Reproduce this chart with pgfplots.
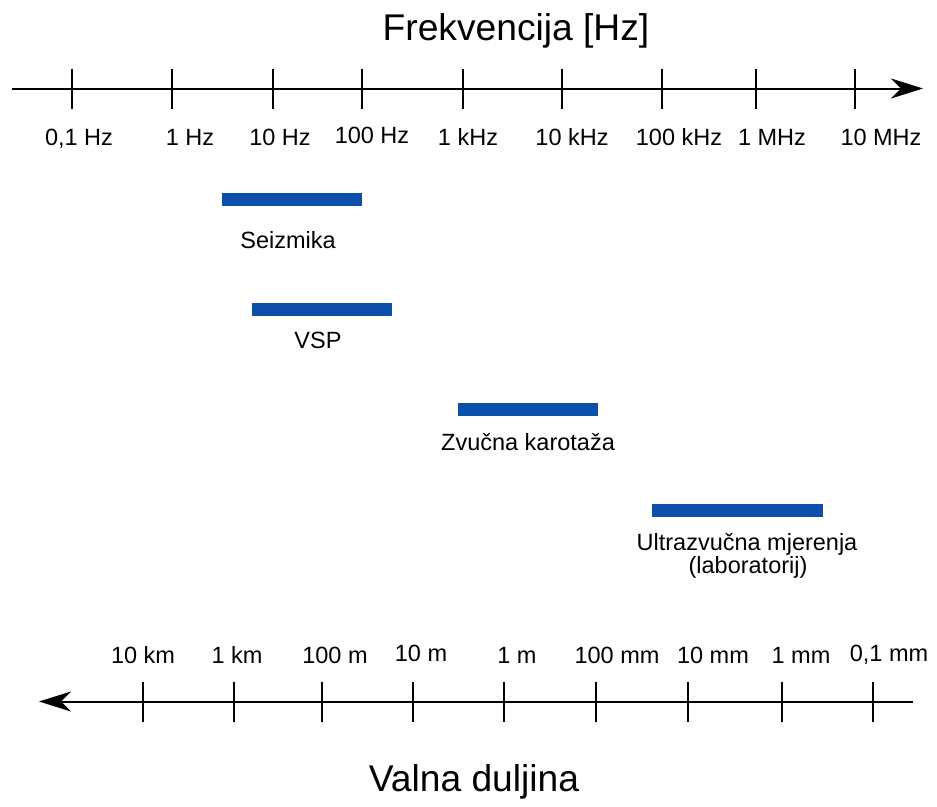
\documentclass[border=0pt]{standalone}
\usepackage{fontspec}
\setmainfont{Liberation Sans}
\usepackage{pgfplots}
\pgfplotsset{compat=1.18}
\usetikzlibrary{arrows.meta}
\definecolor{barblue}{RGB}{12,80,172}
\begin{document}
\fontsize{11.75}{14}\selectfont
\begin{tikzpicture}
\begin{axis}[
  width=468.5pt, height=400.5pt, scale only axis,
  xmin=0, xmax=937, ymin=0, ymax=801, y dir=reverse,
  hide axis, clip=false,
  every node/.style={font=\fontsize{11.75}{14}\selectfont},
]
% bounding box corners
\addplot[draw=none, forget plot] coordinates {(0,0) (937,801)};
% frequency axis
\addplot[black, line width=1pt, -{Stealth[length=16pt,width=10pt,inset=5pt]}] coordinates {(12,88.5) (923,88.5)};
\addplot[black, only marks, mark=|, mark size=10pt, mark options={line width=1pt}] coordinates {
(72,88.5) (172,88.5) (273,88.5) (362,88.5) (463,88.5) (562,88.5) (662,88.5) (756,88.5) (855,88.5)};
% wavelength axis
\addplot[black, line width=1pt, -{Stealth[length=16pt,width=10pt,inset=5pt]}] coordinates {(913,701.5) (39,701.5)};
\addplot[black, only marks, mark=|, mark size=10pt, mark options={line width=1pt}] coordinates {
(143,701.5) (234,701.5) (322,701.5) (413,701.5) (504,701.5) (596,701.5) (688,701.5) (782,701.5) (873,701.5)};
% ranges
\addplot[barblue, line width=6.5pt] coordinates {(222,199.5) (362,199.5)};
\addplot[barblue, line width=6.5pt] coordinates {(252,309.5) (392,309.5)};
\addplot[barblue, line width=6.5pt] coordinates {(458,409.5) (598,409.5)};
\addplot[barblue, line width=6.5pt] coordinates {(652,510.5) (823,510.5)};
% titles
\node[anchor=base, font=\fontsize{18.6}{22}\selectfont] at (axis cs:516,40) {Frekvencija [Hz]};
\node[anchor=base, font=\fontsize{18.6}{22}\selectfont] at (axis cs:474,791) {Valna duljina};
% frequency labels
\node[anchor=base] at (axis cs:79,145) {0,1 Hz};
\node[anchor=base] at (axis cs:190,145) {1 Hz};
\node[anchor=base] at (axis cs:280,145) {10 Hz};
\node[anchor=base] at (axis cs:372,143) {100 Hz};
\node[anchor=base] at (axis cs:468,145) {1 kHz};
\node[anchor=base] at (axis cs:572,145) {10 kHz};
\node[anchor=base] at (axis cs:679,145) {100 kHz};
\node[anchor=base] at (axis cs:772,145) {1 MHz};
\node[anchor=base] at (axis cs:881,145) {10 MHz};
% wavelength labels
\node[anchor=base] at (axis cs:143,663) {10 km};
\node[anchor=base] at (axis cs:237,663) {1 km};
\node[anchor=base] at (axis cs:335,663) {100 m};
\node[anchor=base] at (axis cs:421,661) {10 m};
\node[anchor=base] at (axis cs:517,663) {1 m};
\node[anchor=base] at (axis cs:617,663) {100 mm};
\node[anchor=base] at (axis cs:713,663) {10 mm};
\node[anchor=base] at (axis cs:801,663) {1 mm};
\node[anchor=base] at (axis cs:889,661) {0,1 mm};
% range labels
\node[anchor=base] at (axis cs:288,248) {Seizmika};
\node[anchor=base] at (axis cs:318,348) {VSP};
\node[anchor=base] at (axis cs:528,450) {Zvučna karotaža};
\node[anchor=base] at (axis cs:747,550) {Ultrazvučna mjerenja};
\node[anchor=base] at (axis cs:748,573) {(laboratorij)};
\end{axis}
\end{tikzpicture}
\end{document}
